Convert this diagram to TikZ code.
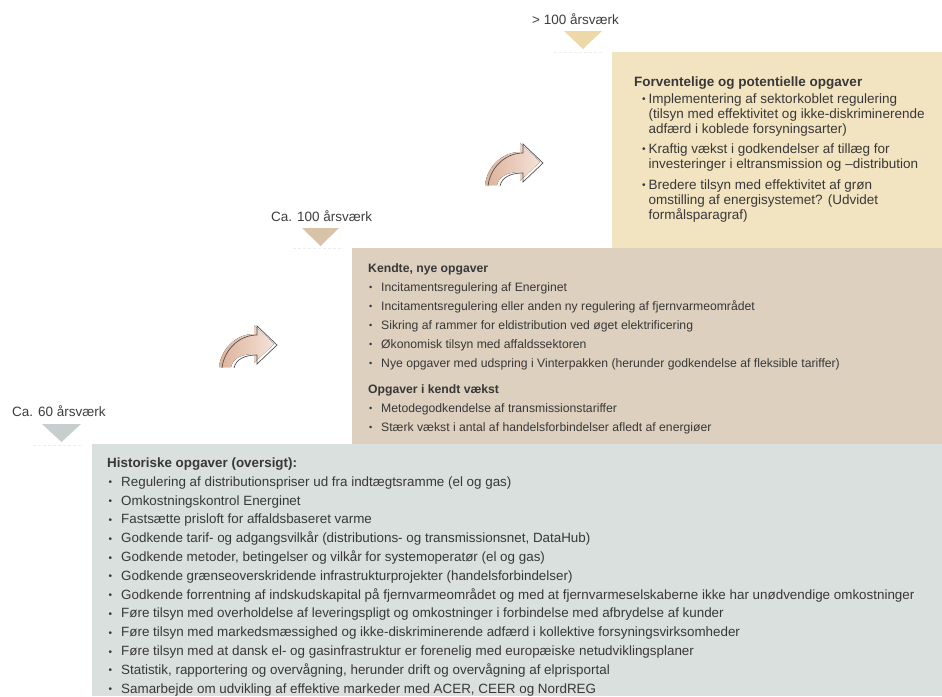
\documentclass[tikz,border=0pt]{standalone}
\usepackage{fontspec}
\setmainfont{Liberation Sans}
\definecolor{topbox}{HTML}{F2E4C0}
\definecolor{midbox}{HTML}{DDD0BF}
\definecolor{botbox}{HTML}{D9E0DE}
\definecolor{toptri}{HTML}{EDD9A8}
\definecolor{midtri}{HTML}{D9C3A8}
\definecolor{bottri}{HTML}{C6CFCD}
\definecolor{textcol}{HTML}{383838}
\definecolor{labelcol}{HTML}{3E3E3E}
\definecolor{arrowA}{HTML}{DDB29A}
\definecolor{arrowB}{HTML}{F4E2D8}
\definecolor{arrowline}{HTML}{505050}
\newcommand{\bul}[1]{\llap{\raisebox{0.5pt}{\scalebox{0.75}{\textbullet}}\hspace{#1}}}
\begin{document}
\begin{tikzpicture}[x=1pt,y=-1pt,
  txt/.style={inner sep=0pt, anchor=base west, text=textcol},
  toptxt/.style={txt, font=\fontsize{13.5}{15}\selectfont},
  midtxt/.style={txt, font=\fontsize{12.2}{14}\selectfont},
  bottxt/.style={txt, font=\fontsize{13.4}{15}\selectfont},
  lbl/.style={inner sep=0pt, anchor=base west, text=labelcol, font=\fontsize{13.5}{15}\selectfont},
  faint/.style={draw=black!7, dashed, dash pattern=on 3pt off 2pt, line width=0.6pt},
  pics/curvedarrow/.style={code={
    \fill[left color=arrowA, right color=arrowB]
      (56,19) -- (36,0) -- (36,9) .. controls (18,9) and (3,24) .. (1,42)
      -- (13,42) .. controls (15,33) and (24,29) .. (36,29) -- (36,38) -- cycle;
    \begin{scope}[shift={(3,1)}]
      \draw[arrowline, line width=0.7pt, line join=miter]
        (1,42) .. controls (3,24) and (18,9) .. (36,9) -- (36,0) -- (56,19) -- (36,38) -- (36,29)
        .. controls (24,29) and (15,33) .. (13,42);
    \end{scope}
  }}
]
\useasboundingbox (0,0) rectangle (942,696);
\fill[white] (0,0) rectangle (942,696);

% boxes
\fill[topbox] (612,52) rectangle (942,248);
\fill[midbox] (352,248) rectangle (942,444);
\fill[botbox] (92,444) rectangle (942,696);

% level labels with triangles
\node[lbl] (lvl3) at (532,24.8) {> 100 årsværk};
\fill[toptri] (564,31) -- (602,31) -- (583,49) -- cycle;
\draw[faint] (554,52) -- (604,52);

\node[lbl] (lvl2) at (271,221.5) {Ca. 100 årsværk};
\fill[midtri] (302,228) -- (339,228) -- (320.5,246) -- cycle;
\draw[faint] (293,248.5) -- (343,248.5);

\node[lbl] (lvl1) at (12,416.5) {Ca. 60 årsværk};
\fill[bottri] (42,424) -- (81,424) -- (61.5,442) -- cycle;
\draw[faint] (33,445.5) -- (83,445.5);

% curved arrows
\pic at (218,325) {curvedarrow};
\pic at (484,143) {curvedarrow};

% top box text
\node[toptxt, font=\fontsize{13.5}{15}\selectfont\bfseries] (ttitle) at (634,86.5) {Forventelige og potentielle opgaver};
\node[toptxt] (t1) at (648.5,103) {\bul{3pt}Implementering af sektorkoblet regulering};
\node[toptxt] (t2) at (648.5,118) {(tilsyn med effektivitet og ikke-diskriminerende};
\node[toptxt] (t3) at (648.5,133) {adfærd i koblede forsyningsarter)};
\node[toptxt] (t4) at (648.5,153) {\bul{3pt}Kraftig vækst i godkendelser af tillæg for};
\node[toptxt] (t5) at (648.5,168) {investeringer i eltransmission og –distribution};
\node[toptxt] (t6) at (648.5,189) {\bul{3pt}Bredere tilsyn med effektivitet af grøn};
\node[toptxt] (t7) at (648.5,204) {omstilling af energisystemet? (Udvidet};
\node[toptxt] (t8) at (648.5,219) {formålsparagraf)};

% middle box text
\node[midtxt, font=\fontsize{12.2}{14}\selectfont\bfseries] (mtitle1) at (368,272.6) {Kendte, nye opgaver};
\foreach \t [count=\i] in {
  {Incitamentsregulering af Energinet},
  {Incitamentsregulering eller anden ny regulering af fjernvarmeområdet},
  {Sikring af rammer for eldistribution ved øget elektrificering},
  {Økonomisk tilsyn med affaldssektoren},
  {Nye opgaver med udspring i Vinterpakken (herunder godkendelse af fleksible tariffer)}}
  \node[midtxt] (m\i) at (381,{291+19*(\i-1)}) {\bul{9pt}\t};
\node[midtxt, font=\fontsize{12.2}{14}\selectfont\bfseries] (mtitle2) at (368,393.3) {Opgaver i kendt vækst};
\foreach \t [count=\i] in {
  {Metodegodkendelse af transmissionstariffer},
  {Stærk vækst i antal af handelsforbindelser afledt af energiøer}}
  \node[midtxt] (n\i) at (381,{412+19*(\i-1)}) {\bul{9pt}\t};

% bottom box text
\node[bottxt, font=\fontsize{13.4}{15}\selectfont\bfseries] (btitle) at (107,467.5) {Historiske opgaver (oversigt):};
\foreach \t [count=\i] in {
  {Regulering af distributionspriser ud fra indtægtsramme (el og gas)},
  {Omkostningskontrol Energinet},
  {Fastsætte prisloft for affaldsbaseret varme},
  {Godkende tarif- og adgangsvilkår (distributions- og transmissionsnet, DataHub)},
  {Godkende metoder, betingelser og vilkår for systemoperatør (el og gas)},
  {Godkende grænseoverskridende infrastrukturprojekter (handelsforbindelser)},
  {Godkende forrentning af indskudskapital på fjernvarmeområdet og med at fjernvarmeselskaberne ikke har unødvendige omkostninger},
  {Føre tilsyn med overholdelse af leveringspligt og omkostninger i forbindelse med afbrydelse af kunder},
  {Føre tilsyn med markedsmæssighed og ikke-diskriminerende adfærd i kollektive forsyningsvirksomheder},
  {Føre tilsyn med at dansk el- og gasinfrastruktur er forenelig med europæiske netudviklingsplaner},
  {Statistik, rapportering og overvågning, herunder drift og overvågning af elprisportal},
  {Samarbejde om udvikling af effektive markeder med ACER, CEER og NordREG}}
  \node[bottxt] (b\i) at (121,{486.3+18.8*(\i-1)}) {\bul{9pt}\t};
\end{tikzpicture}
\end{document}
